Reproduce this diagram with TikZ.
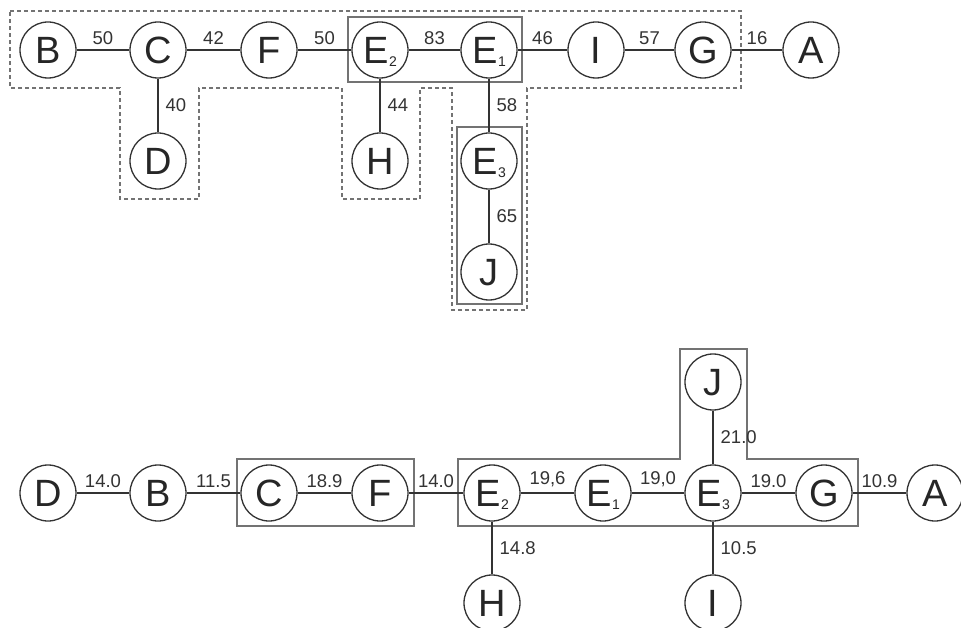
\documentclass[tikz,border=0pt]{standalone}
\usepackage{fontspec}
\setmainfont{Liberation Sans}
\begin{document}
\begin{tikzpicture}[x=1pt,y=-1pt,
  vtx/.style={circle,draw=black!80,line width=1.3pt,minimum size=56pt,inner sep=0pt,
    font=\fontsize{38}{38}\selectfont,text=black!85,text height=27pt,text depth=0pt},
  edge/.style={draw=black!80,line width=1.4pt},
  hl/.style={inner sep=0pt,above=5pt,font=\fontsize{18.5}{18.5}\selectfont,text=black!80},
  vl/.style={inner sep=0pt,right=7pt,font=\fontsize{18.5}{18.5}\selectfont,text=black!80},
  grp/.style={draw=black!55,line width=1.1pt},
  dgrp/.style={draw=black!55,line width=1.1pt,dash pattern=on 4pt off 3pt}]
\newcommand{\sub}[2]{#1\kern0.5pt\raisebox{-3pt}{\fontsize{14}{14}\selectfont #2}}
\useasboundingbox (0,0) rectangle (961,628);
% ---------- top ----------
\draw[dgrp] (10,11) -- (741,11) -- (741,88) -- (527,88) -- (527,310) -- (452,310) -- (452,88)
  -- (420,88) -- (420,199) -- (342,199) -- (342,88) -- (199,88) -- (199,199) -- (120,199)
  -- (120,88) -- (10,88) -- cycle;
\draw[grp] (348,17) rectangle (522,82);
\draw[grp] (457,127) rectangle (522,304);
\node[vtx] (tB) at (48,50) {B};
\node[vtx] (tC) at (158,50) {C};
\node[vtx] (tF) at (269,50) {F};
\node[vtx] (tE2) at (380,50) {\sub{E}{2}};
\node[vtx] (tE1) at (489,50) {\sub{E}{1}};
\node[vtx] (tI) at (596,50) {I};
\node[vtx] (tG) at (703,50) {G};
\node[vtx] (tA) at (811,50) {A};
\node[vtx] (tD) at (158,161) {D};
\node[vtx] (tH) at (380,161) {H};
\node[vtx] (tE3) at (489,161) {\sub{E}{3}};
\node[vtx] (tJ) at (489,272) {J};
\draw[edge] (tB) -- node[hl] {50} (tC);
\draw[edge] (tC) -- node[hl] {42} (tF);
\draw[edge] (tF) -- node[hl] {50} (tE2);
\draw[edge] (tE2) -- node[hl] {83} (tE1);
\draw[edge] (tE1) -- node[hl] {46} (tI);
\draw[edge] (tI) -- node[hl] {57} (tG);
\draw[edge] (tG) -- node[hl] {16} (tA);
\draw[edge] (tC) -- node[vl] {40} (tD);
\draw[edge] (tE2) -- node[vl] {44} (tH);
\draw[edge] (tE1) -- node[vl] {58} (tE3);
\draw[edge] (tE3) -- node[vl] {65} (tJ);
% ---------- bottom ----------
\draw[grp] (237,459) rectangle (414,526);
\draw[grp] (458,459) -- (680,459) -- (680,349) -- (747,349) -- (747,459) -- (858,459)
  -- (858,526) -- (458,526) -- cycle;
\node[vtx] (bD) at (48,493) {D};
\node[vtx] (bB) at (158,493) {B};
\node[vtx] (bC) at (269,493) {C};
\node[vtx] (bF) at (380,493) {F};
\node[vtx] (bE2) at (492,493) {\sub{E}{2}};
\node[vtx] (bE1) at (603,493) {\sub{E}{1}};
\node[vtx] (bE3) at (713,493) {\sub{E}{3}};
\node[vtx] (bG) at (824,493) {G};
\node[vtx] (bA) at (935,493) {A};
\node[vtx] (bJ) at (713,382) {J};
\node[vtx] (bH) at (492,603) {H};
\node[vtx] (bI) at (713,603) {I};
\draw[edge] (bD) -- node[hl] {14.0} (bB);
\draw[edge] (bB) -- node[hl] {11.5} (bC);
\draw[edge] (bC) -- node[hl] {18.9} (bF);
\draw[edge] (bF) -- node[hl] {14.0} (bE2);
\draw[edge] (bE2) -- node[hl] {19,6} (bE1);
\draw[edge] (bE1) -- node[hl] {19,0} (bE3);
\draw[edge] (bE3) -- node[hl] {19.0} (bG);
\draw[edge] (bG) -- node[hl] {10.9} (bA);
\draw[edge] (bJ) -- node[vl] {21.0} (bE3);
\draw[edge] (bE2) -- node[vl] {14.8} (bH);
\draw[edge] (bE3) -- node[vl] {10.5} (bI);
\end{tikzpicture}
\end{document}
